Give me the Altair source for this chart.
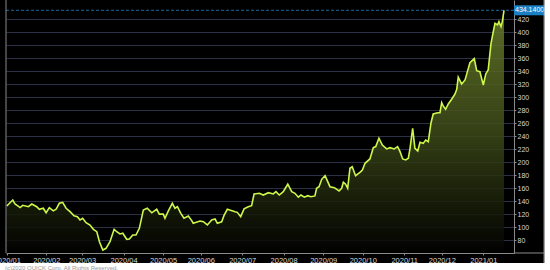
import altair as alt
import pandas as pd

# ---- data (x = trading-day index from 2020/01 start) ----
day_index = [
    0, 3.2, 4.4, 7.1, 8.5, 11.5, 13.3, 15.9, 17.3, 19.4,
    20.9, 22.6, 24.7, 26.2, 27.9, 29.7, 31.5, 33.6, 35.7, 37.5,
    38.9, 40.3, 42.1, 44.2, 46.0, 47.8, 49.2, 51.0, 52.7, 54.8,
    57.0, 58.4, 60.1, 61.6, 63.7, 65.1, 66.9, 68.6, 70.4, 72.5,
    74.6, 77.0, 79.6, 81.0, 83.1, 84.0, 85.8, 87.9, 89.3, 90.6,
    92.4, 94.1, 96.4, 98.2, 99.0, 102.6, 104.4, 106.5, 108.8, 110.6,
    111.8, 114.1, 115.3, 117.1, 121.2, 122.4, 124.2, 126.0, 128.2, 130.0,
    131.3, 134.1, 136.2, 138.9, 141.5, 142.9, 144.7, 146.8, 149.2, 151.3,
    153.0, 154.8, 156.2, 158.0, 159.8, 161.5, 163.6, 164.5, 165.8, 167.2,
    169.0, 170.4, 171.6, 173.9, 176.4, 177.8, 178.7, 179.9, 181.0, 182.2,
    183.4, 185.2, 187.5, 188.8, 190.2, 192.8, 194.6, 195.9, 197.6, 199.4,
    201.7, 203.5, 205.7, 207.5, 208.8, 210.2, 211.8, 213.2, 214.1, 215.5,
    216.7, 218.2, 219.4, 221.1, 222.4, 223.8, 224.3, 225.2, 226.4, 228.8,
    230.0, 230.9, 231.7, 233.0, 234.4, 236.2, 238.0, 238.9, 239.7, 241.5,
    243.3, 244.7, 245.9, 248.2, 249.5, 251.2, 253.0, 254.3, 255.6, 257.1,
    258.3, 259.2, 260.6, 261.3, 262.4, 263.1, 264.0,
]
close = [
    132.5, 141.7, 135.5, 130.0, 133.5, 131.4, 135.5, 131.4, 127.4, 129.0,
    122.0, 130.0, 125.0, 127.4, 136.6, 138.0, 129.0, 123.7, 117.5, 116.0,
    111.0, 113.5, 106.7, 103.0, 96.5, 92.8, 77.4, 64.6, 67.2, 77.4,
    96.5, 92.8, 89.3, 90.4, 81.1, 81.6, 87.7, 87.7, 98.0, 126.3,
    129.0, 122.0, 127.4, 120.0, 120.0, 113.5, 125.0, 136.6, 129.0, 131.4,
    121.0, 113.5, 117.0, 110.0, 105.8, 109.3, 108.2, 103.2, 110.9, 112.4,
    105.8, 108.0, 117.5, 127.4, 123.7, 122.7, 116.0, 128.0, 131.4, 133.0,
    151.0, 152.0, 149.4, 153.0, 151.0, 154.5, 149.4, 154.5, 166.0, 154.5,
    152.0, 146.0, 149.4, 146.0, 148.3, 146.8, 148.0, 159.8, 162.2, 173.6,
    179.2, 170.0, 162.2, 160.7, 155.6, 159.8, 169.0, 166.0, 159.8, 190.6,
    193.0, 179.2, 184.4, 188.0, 198.3, 205.0, 222.4, 224.0, 236.9, 226.5,
    220.4, 222.4, 220.4, 224.0, 216.2, 205.0, 203.4, 206.0, 221.4, 252.3,
    221.4, 217.3, 230.7, 229.0, 234.2, 231.6, 242.0, 260.0, 274.3, 276.3,
    276.3, 291.7, 286.7, 281.6, 289.7, 297.0, 305.2, 312.4, 330.9, 320.6,
    326.8, 341.1, 353.4, 359.6, 341.1, 339.6, 319.0, 336.0, 342.2, 383.3,
    401.3, 414.2, 411.6, 416.7, 409.0, 416.7, 434.14,
]
assert len(day_index) == len(close)

tick_index = [0, 21, 40, 62, 83, 103, 125, 147, 168, 189, 211, 231, 253]
tick_labels = ["2020/01", "2020/02", "2020/03", "2020/04", "2020/05", "2020/06",
               "2020/07", "2020/08", "2020/09", "2020/10", "2020/11", "2020/12",
               "2021/01"]
y_ticks = [80, 100, 120, 140, 160, 180, 200, 220, 240, 260, 280, 300, 320,
           340, 360, 380, 400, 420]
last_value = [434.14]
last_label = ["434.1400"]
footer = ["(c)2020 QUICK Corp. All Rights Reserved."]

df = pd.DataFrame({"i": day_index, "v": close})
last_df = pd.DataFrame({"v": last_value, "label": last_label})
foot_df = pd.DataFrame({"t": footer})
one = pd.DataFrame({"k": [0]})

W, H = 508, 253
FONT = "Liberation Sans Narrow, Arial Narrow, Liberation Sans, Arial, sans-serif"
GRAY = "#8a8a8a"

xs = alt.Scale(domain=[-0.4, 269.3], nice=False, zero=False)
ys = alt.Scale(domain=[60, 450], nice=False, zero=False)

label_expr = ("[" + ",".join(f"'{l}'" for l in tick_labels) + "][indexof(["
              + ",".join(str(t) for t in tick_index) + "], datum.value)]")

x_axis = alt.Axis(values=tick_index, labelExpr=label_expr, grid=False,
                  domainColor=GRAY, tickColor=GRAY, tickSize=2,
                  labelColor="#d8d8d8", labelFontSize=7.5, labelFont=FONT,
                  labelPadding=1, labelFlush=False, labelOverlap=False, title=None)
y_axis = alt.Axis(orient="right", values=y_ticks, grid=True, gridColor="#2c3044",
                  gridWidth=1, domainColor=GRAY, tickColor=GRAY, tickSize=2,
                  labelColor="#d8d8d8", labelFontSize=7, labelFont=FONT,
                  labelPadding=1, labelFlush=False, labelOverlap=False, title=None)

X = alt.X("i:Q", scale=xs, axis=x_axis)
Y = alt.Y("v:Q", scale=ys, axis=y_axis)

grad = alt.Gradient(
    gradient="linear",
    stops=[alt.GradientStop(color="#6c802c", offset=0),
           alt.GradientStop(color="#3e4b19", offset=0.5),
           alt.GradientStop(color="#171c08", offset=0.82),
           alt.GradientStop(color="#020301", offset=1)],
    x1=1, x2=1, y1=0, y2=1)

area = alt.Chart(df).mark_area(color=grad, fillOpacity=0.85).encode(
    x=X, y=Y, y2=alt.datum(60))
line = alt.Chart(df).mark_line(color="#cdf74a", strokeWidth=1.6).encode(x=X, y=Y)

dash = alt.Chart(last_df).mark_rule(color="#1a6aa0", strokeDash=[3, 2], strokeWidth=1).encode(y=Y)
box = alt.Chart(last_df).mark_rect(color="#1b7fc4", yOffset=-5, y2Offset=5).encode(
    x=alt.value(W), x2=alt.value(W + 31), y=Y, y2=alt.Y2("v:Q"))
box_text = alt.Chart(last_df).mark_text(align="left", baseline="middle", fontSize=7,
                                        color="white", font=FONT).encode(
    x=alt.value(W + 1), y=Y, text="label:N")

left_rule = alt.Chart(one).mark_rule(color=GRAY).encode(
    x=alt.value(0), y=alt.value(0), y2=alt.value(H))
outer_rule = alt.Chart(one).mark_rule(color=GRAY).encode(
    x=alt.value(W + 30), y=alt.value(0), y2=alt.value(H + 10))
bottom_ext = alt.Chart(one).mark_rule(color=GRAY).encode(
    x=alt.value(W), x2=alt.value(W + 30), y=alt.value(H))

white_right = alt.Chart(one).mark_rect(color="white").encode(
    x=alt.value(W + 30.5), x2=alt.value(W + 100), y=alt.value(-10), y2=alt.value(H + 60))
white_bottom = alt.Chart(one).mark_rect(color="white").encode(
    x=alt.value(-20), x2=alt.value(W + 100), y=alt.value(H + 10), y2=alt.value(H + 60))
foot = alt.Chart(foot_df).mark_text(align="left", baseline="top", fontSize=6,
                                    color="#9a9a9a", font="Liberation Sans").encode(
    x=alt.value(-1), y=alt.value(H + 12), text="t:N")

chart = alt.layer(area, dash, line, box, box_text, left_rule, outer_rule, bottom_ext,
                  white_right, white_bottom, foot).properties(
    width=W, height=H,
    autosize=alt.AutoSizeParams(type="none"),
    padding={"left": 6, "top": 0, "right": 36, "bottom": 17},
).configure(background="#000000").configure_view(strokeWidth=0)

chart.save("out.html", embed_options={"renderer": "svg", "actions": False})
